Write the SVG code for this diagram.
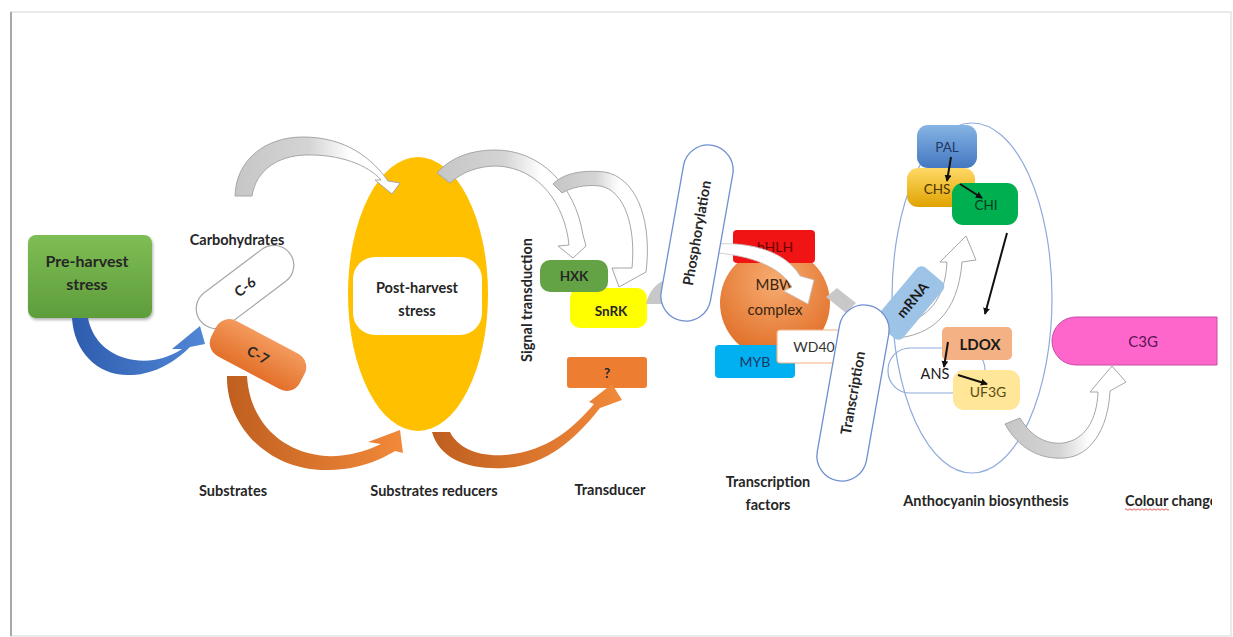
<svg xmlns="http://www.w3.org/2000/svg" width="1233" height="637" viewBox="0 0 1233 637">
<defs>
<style>
text{font-family:Lato,"Liberation Sans","DejaVu Sans",sans-serif;text-anchor:middle;fill:#262626}
.b{font-weight:700;font-size:13.5px}
.r{font-weight:400;font-size:13.5px}
.lab{font-weight:700;font-size:14.5px}
.gy{stroke:#a6a6a6;stroke-width:1}
.pill{fill:#fff;stroke:#6f8fd0;stroke-width:1.3}
.k{stroke:#111;stroke-width:2;fill:none;marker-end:url(#ah)}
</style>
<marker id="ah" viewBox="0 0 8 8" markerWidth="7" markerHeight="7" refX="7" refY="4" orient="auto" markerUnits="userSpaceOnUse"><path d="M0,0 L8,4 L0,8 z" fill="#111"/></marker>
<linearGradient id="gPre" x1="0" y1="0" x2="0" y2="1"><stop offset="0" stop-color="#7fbd55"/><stop offset="1" stop-color="#5e9d3b"/></linearGradient>
<linearGradient id="gBlue" x1="0" y1="0" x2="1" y2="0"><stop offset="0" stop-color="#2e5cae"/><stop offset="1" stop-color="#5287d6"/></linearGradient>
<linearGradient id="gOr" x1="0" y1="0" x2="1" y2="0"><stop offset="0" stop-color="#bf5f1f"/><stop offset="1" stop-color="#f2893a"/></linearGradient>
<linearGradient id="gC7" x1="0" y1="0" x2="0" y2="1"><stop offset="0" stop-color="#f49a5c"/><stop offset="1" stop-color="#e2702a"/></linearGradient>
<radialGradient id="gMBW" cx="0.5" cy="0.3" r="0.7"><stop offset="0" stop-color="#f7ac72"/><stop offset="1" stop-color="#e06e26"/></radialGradient>
<linearGradient id="gGray" x1="0" y1="0" x2="1" y2="0"><stop offset="0" stop-color="#c6c6c6"/><stop offset="0.45" stop-color="#d4d4d4"/><stop offset="0.7" stop-color="#ffffff"/></linearGradient>
<linearGradient id="gPAL" x1="0" y1="0" x2="0" y2="1"><stop offset="0" stop-color="#86b4e4"/><stop offset="1" stop-color="#4377c0"/></linearGradient>
<linearGradient id="gCHS" x1="0" y1="0" x2="0" y2="1"><stop offset="0" stop-color="#ffd966"/><stop offset="1" stop-color="#dfa300"/></linearGradient>
<filter id="sh" x="-10%" y="-10%" width="130%" height="130%"><feDropShadow dx="1" dy="2" stdDeviation="1.5" flood-opacity="0.3"/></filter>
<clipPath id="clipR"><rect x="0" y="0" width="1212" height="637"/></clipPath>
</defs>

<rect x="0" y="0" width="1233" height="637" fill="#fff"/>
<rect id="frame" x="11" y="12" width="1220" height="624" fill="#fff" stroke="#dcdcdc" stroke-width="1.2"/>
<line x1="11" y1="12" x2="11" y2="636" stroke="#a8a8a8" stroke-width="2"/>

<!-- nodes (background layer) -->
<g id="pre-harvest">
<rect x="28" y="235" width="124" height="83" rx="8" fill="url(#gPre)" filter="url(#sh)"/>
<text class="b" x="87" y="267" style="font-size:16px">Pre-harvest</text>
<text class="b" x="87" y="290" style="font-size:16px">stress</text>
</g>
<g id="c6" transform="translate(245,287) rotate(-37)">
<rect x="-56" y="-20" width="112" height="40" rx="20" fill="#fff" stroke="#a6a6a6" stroke-width="1.2"/>
<text class="b" x="0" y="5" style="font-size:14px">C-6</text>
</g>
<g id="c7" transform="translate(258,355) rotate(28)">
<rect x="-50" y="-20" width="100" height="40" rx="15" fill="url(#gC7)"/>
<text class="b" x="0" y="5" style="font-size:14px">C-7</text>
</g>
<g id="post-harvest">
<ellipse cx="418" cy="294" rx="70" ry="137" fill="#ffc000"/>
<rect x="353" y="257" width="129" height="78" rx="22" fill="#fff"/>
<text class="b" x="417" y="293" style="font-size:14.5px">Post-harvest</text>
<text class="b" x="417" y="316" style="font-size:14.5px">stress</text>
</g>
<g id="snrk">
<rect x="570" y="288" width="77" height="40" rx="10" fill="#ffff00"/>
<text class="b" x="611" y="316">SnRK</text>
</g>
<g id="hxk">
<rect x="540" y="260" width="68" height="32" rx="10" fill="#63a345"/>
<text class="b" x="574" y="281">HXK</text>
</g>
<g id="transducer">
<rect x="567" y="357" width="80" height="31" rx="3" fill="#ed7d31"/>
<text class="b" x="607" y="378">?</text>
</g>
<g id="mbw">
<circle cx="775" cy="303" r="55" fill="url(#gMBW)"/>
<rect x="733" y="230" width="82" height="33" rx="4" fill="#f01414"/>
<text class="r" x="775" y="252" style="fill:#6a0000;font-size:14px">bHLH</text>
<text class="r" x="775" y="290" style="fill:#3a2412;font-size:15px">MBW</text>
<text class="r" x="775" y="315" style="fill:#3a2412;font-size:15px">complex</text>
<rect x="715" y="345" width="80" height="33" rx="4" fill="#00b0f0"/>
<text class="r" x="755" y="367" style="fill:#1f3864;font-size:14px">MYB</text>
<rect x="777" y="330" width="73" height="33" rx="3" fill="#fff" stroke="#f4b183" stroke-width="1.2"/>
<text class="r" x="814" y="352" style="fill:#333;font-size:14px">WD40</text>
</g>
<g id="anthocyanin">
<ellipse cx="972" cy="298" rx="80" ry="175" fill="none" stroke="#8faadc" stroke-width="1.2"/>
<rect x="888" y="348" width="97" height="45" rx="22" fill="none" stroke="#8faadc" stroke-width="1.2"/>
<rect x="917" y="125" width="60" height="43" rx="11" fill="url(#gPAL)"/>
<text class="r" x="947" y="152" style="fill:#1f3864">PAL</text>
<rect x="907" y="168" width="68" height="39" rx="11" fill="url(#gCHS)"/>
<text class="r" x="937" y="194" style="fill:#4a3500">CHS</text>
<rect x="952" y="183" width="66" height="42" rx="11" fill="#00b050"/>
<text class="r" x="986" y="210" style="fill:#0b3a1c">CHI</text>
<rect x="942" y="327" width="70" height="33" rx="5" fill="#f4b183"/>
<text class="b" x="980" y="350" style="fill:#1a1a1a;font-size:15px">LDOX</text>
<rect x="953" y="370" width="67" height="40" rx="11" fill="#ffe699"/>
<text class="r" x="988" y="397" style="fill:#5a4a10;font-size:14px">UF3G</text>
<text class="r" x="935" y="379" style="fill:#1a1a1a;font-size:14.5px">ANS</text>
</g>

<!-- connectors -->
<g id="connectors">
<path id="a-pre" d="M72,318 C74,352 98,377 132,375 C155,374 175,362 190,347 L205,344 L200,326 L172,349 L182,349 C165,360 145,364 125,358 C105,352 92,338 88,318 Z" fill="url(#gBlue)"/>
<path id="a-sub" d="M227,376 C226,425 268,472 330,470 C360,469 380,460 395,451 L403,453 L400,430 L368,442 L381,444 C365,452 345,457 325,456 C285,453 250,425 247,376 Z" fill="url(#gOr)"/>
<path id="a-red" d="M432,432 C440,460 470,470 505,468 C545,466 575,440 600,408 L622,400 L612,384 L589,402 L594,404 C572,430 545,452 505,455 C478,457 458,448 450,432 Z" fill="url(#gOr)"/>
<path id="a-carb" class="gy" d="M235,196 C236,160 265,137 303,137 C345,137 372,158 388,181 L400,183 L392,194 L375,180 L381,180 C368,165 340,154 305,155 C278,156 256,170 252,196 Z" fill="url(#gGray)"/>
<path id="a-hxk" class="gy" d="M437,173 C450,158 470,150 495,150 C540,150 575,185 583,235 L586,246 L573,258 L558,246 L569,245 C565,205 540,168 497,166 C478,166 462,172 450,183 Z" fill="url(#gGray)"/>
<path id="a-snrk" class="gy" d="M553,184 C565,172 585,170 605,172 C635,178 650,215 647,262 L646,272 L619,287 L612,268 L632,268 C636,228 625,190 600,186 C585,184 570,188 562,193 Z" fill="url(#gGray)"/>
<path id="a-phos" d="M646,304 C649,290 658,281 672,277 L676,304 Z" fill="#c8c8c8"/>
<line x1="712" y1="247" x2="736" y2="247" stroke="#bdbdbd" stroke-width="1.5"/>
<path id="a-mbw" d="M718,244 C752,242 786,252 800,276 L814,280 L808,304 L784,291 L792,287 C780,266 750,256 718,253 Z" fill="#fff" stroke="#c4c4c4" stroke-width="0.8"/>
<path id="a-tr" d="M826,297 L837,288 L856,303 L846,313 Z" fill="#c8c8c8"/>
<path id="a-mrna" class="gy" d="M897,338 C930,335 958,315 962,262 L976,260 L966,236 L940,262 L947,262 C945,300 928,318 900,325 Z" fill="#fff"/>
<path id="a-c3g" class="gy" d="M1005,424 C1018,448 1040,460 1065,458 C1090,456 1108,430 1110,391 L1126,382 L1112,366 L1090,392 L1098,392 C1097,420 1085,440 1063,443 C1045,445 1030,435 1020,418 Z" fill="url(#gGray)"/>
<line class="k" x1="951" y1="157" x2="947" y2="181"/>
<line class="k" x1="960" y1="184" x2="982" y2="198"/>
<line class="k" x1="1007" y1="233" x2="985" y2="314"/>
<line class="k" x1="948" y1="342" x2="944" y2="367"/>
<line class="k" x1="958" y1="375" x2="987" y2="384"/>
</g>

<!-- nodes (foreground layer) -->
<g id="phosphorylation" transform="translate(697,233) rotate(-80)">
<rect x="-89" y="-25" width="178" height="50" rx="25" class="pill"/>
<text class="b" x="0" y="5" style="font-size:14.5px">Phosphorylation</text>
</g>
<g id="mrna" transform="translate(910,303) rotate(-50)">
<rect x="-37" y="-17" width="74" height="34" rx="6" fill="#9dc3e6"/>
<text class="b" x="4" y="5" style="fill:#1a1a1a;font-size:14px">mRNA</text>
</g>
<g id="transcription" transform="translate(853,393) rotate(-80)">
<rect x="-89" y="-25" width="178" height="50" rx="25" class="pill"/>
<text class="b" x="0" y="5" style="font-size:14.5px">Transcription</text>
</g>
<g id="c3g">
<path d="M1076,317 L1217,317 L1217,365 L1076,365 A24,24 0 0 1 1076,317 Z" fill="#ff66cc" stroke="#c94aa6" stroke-width="1"/>
<text class="r" x="1143" y="347" style="fill:#5a1457;font-size:15px">C3G</text>
</g>

<!-- labels -->
<g id="labels">
<text class="lab" x="237" y="245">Carbohydrates</text>
<text class="lab" x="233" y="496">Substrates</text>
<text class="lab" x="434" y="496">Substrates reducers</text>
<text class="lab" x="610" y="495">Transducer</text>
<text class="lab" x="768" y="487">Transcription</text>
<text class="lab" x="768" y="510">factors</text>
<text class="lab" x="986" y="506">Anthocyanin biosynthesis</text>
<text class="lab" x="532" y="300" transform="rotate(-90 532 300)">Signal transduction</text>
<g clip-path="url(#clipR)">
<text class="lab" x="1125" y="506" style="text-anchor:start">Colour change</text>
</g>
<path d="M1125,509.5 q1,-1.5 2,0 t2,0 t2,0 t2,0 t2,0 t2,0 t2,0 t2,0 t2,0 t2,0 t2,0 t2,0 t2,0 t2,0 t2,0 t2,0 t2,0 t2,0 t2,0 t2,0 t2,0 t2,0" fill="none" stroke="#e03030" stroke-width="0.8"/>
</g>
</svg>
